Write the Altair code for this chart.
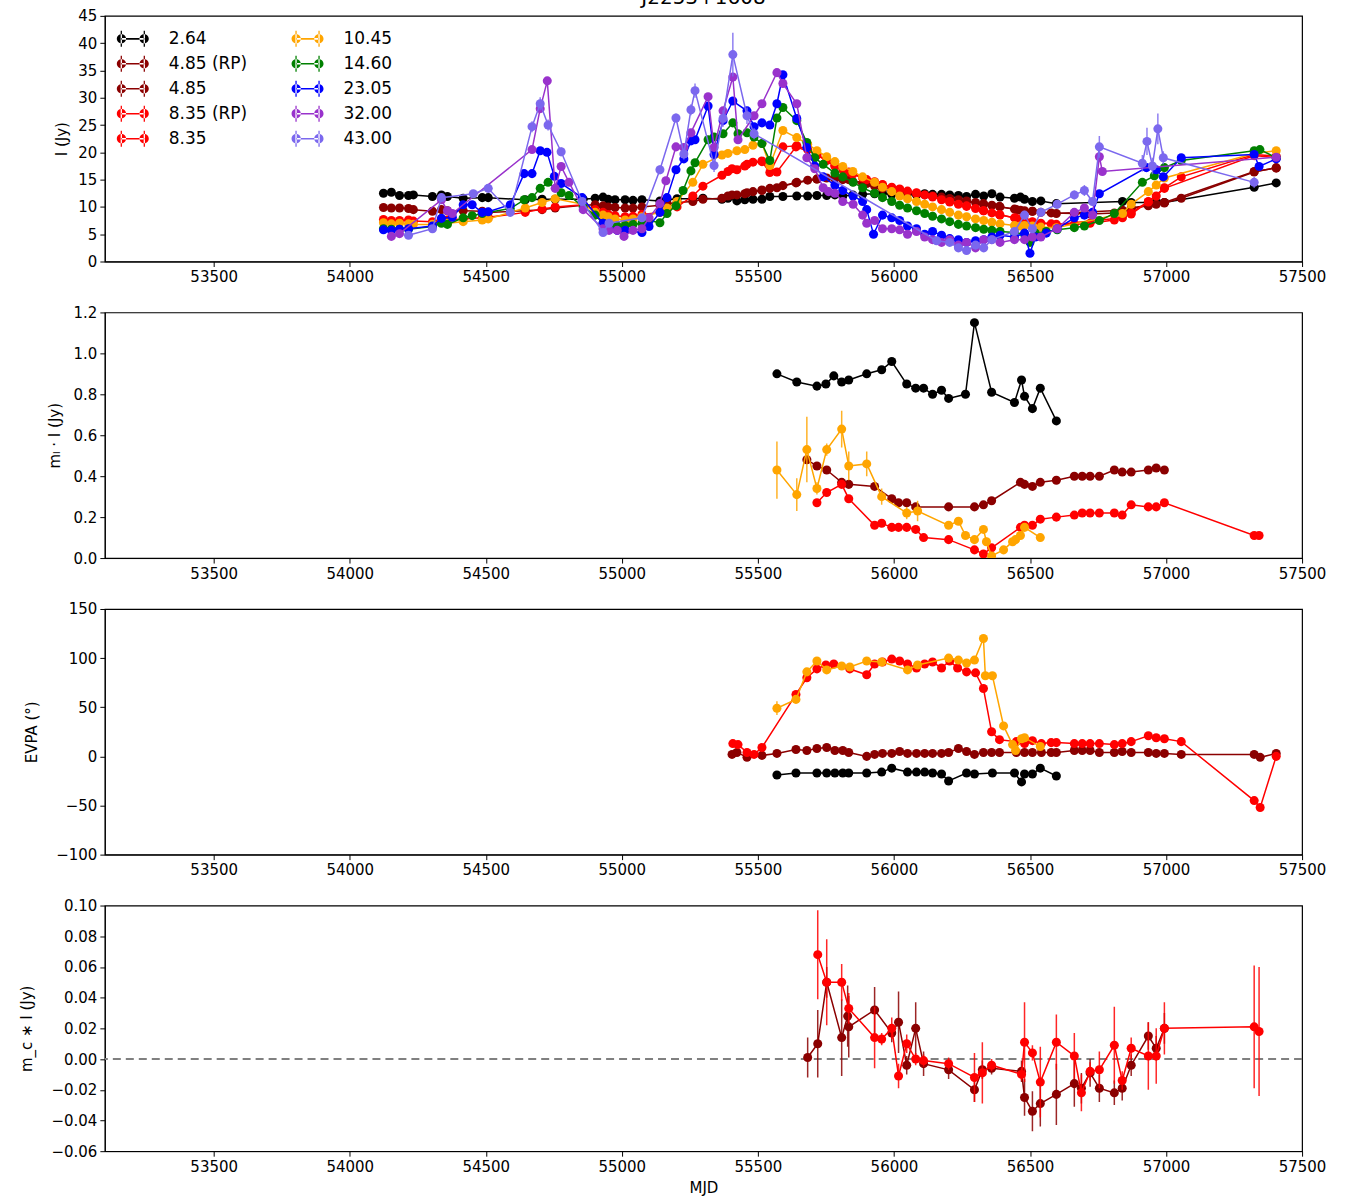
import altair as alt
import pandas as pd

# ---------------- panel 1: total flux density I (Jy) ----------------
DATES_A = [54124, 54153, 54183, 54216, 54234, 54304, 54337, 54359, 54417, 54487,
           54509, 54645, 54707, 54755, 54858, 54902, 54931, 54950, 54975, 55012,
           55041, 55074, 55140, 55166, 55203, 55261, 55298, 55368, 55390, 55423,
           55452, 55482, 55515, 55544, 55592, 55643, 55683, 55717, 55753, 55783,
           55812, 55849, 55885, 55929, 55958, 55992, 56021, 56050, 56083, 56113,
           56142, 56175, 56205, 56237, 56267, 56300, 56330, 56360, 56390, 56443,
           56465, 56480, 56509, 56540, 56597, 56840, 56872, 56935, 56964, 56994,
           57324, 57405]
I_264 = [12.5, 12.7, 12.1, 12.1, 12.2, 11.9, 12.2, 11.9, 11.6, 11.7,
         11.7, 11.3, 11.4, 11.4, 11.4, 11.6, 11.8, 11.4, 11.3, 11.3,
         11.2, 11.3, 11.1, 11.3, 11.5, 11.5, 11.6, 11.4, 11.6, 11.1,
         11.3, 11.4, 11.4, 11.9, 11.9, 12.0, 12.0, 12.1, 12.1, 12.2,
         12.0, 12.2, 12.3, 12.4, 12.5, 12.3, 12.3, 12.4, 12.2, 12.4,
         12.3, 12.3, 12.2, 12.1, 11.9, 12.3, 12.0, 12.4, 11.8, 11.6,
         11.8, 11.4, 11.0, 11.1, 10.6, 11.0, 10.8, 10.8, 10.9, 10.8,
         13.6, 14.4]
I_485 = [9.9, 9.8, 9.8, 9.7, 9.5, 9.2, 9.5, 9.3, 9.3, 9.2,
         9.0, 9.3, 9.5, 9.8, 10.3, 10.4, 10.2, 10.0, 9.9, 9.8,
         9.8, 10.0, 10.3, 10.6, 10.8, 11.0, 11.4, 11.6, 12.0, 12.2,
         12.4, 12.8, 13.0, 13.4, 13.9, 14.5, 14.9, 15.1, 15.3, 15.2,
         15.0, 14.6, 14.2, 13.8, 13.4, 13.0, 12.8, 12.6, 12.4, 12.2,
         12.0, 11.8, 11.5, 11.3, 11.0, 10.8, 10.5, 10.3, 10.0, 9.6,
         9.4, 9.3, 9.2, 9.0, 8.8, 9.4, 9.8, 10.3, 10.5, 10.8,
         16.5, 17.1]
I_835 = [7.7, 7.5, 7.5, 7.6, 7.4, 7.3, 7.8, 7.6, 7.8, 8.0,
         8.1, 9.0, 9.6, 10.0, 10.4, 9.5, 9.0, 8.6, 8.4, 8.2,
         8.3, 8.6, 9.0, 9.5, 10.0, 12.0, 13.8, 15.8, 16.5, 16.8,
         17.5, 18.2, 18.3, 16.3, 21.0, 21.2, 20.5, 19.5, 18.5, 17.6,
         16.8, 16.0, 15.3, 14.6, 14.0, 13.6, 13.2, 12.9, 12.5, 12.2,
         11.8, 11.3, 10.9, 10.5, 10.1, 9.7, 9.3, 8.9, 8.5, 8.0,
         7.7, 7.5, 7.2, 7.0, 6.8, 8.0, 8.7, 10.9, 12.0, 13.4,
         19.4, 19.0]
I_1045 = [7.1, 6.9, 7.0, 6.9, 6.8, 6.8, 7.2, 7.0, 7.3, 7.6,
          7.8, 9.8, 10.8, 11.5, 10.5, 9.0, 8.5, 8.2, 7.8, 7.6,
          7.8, 8.2, 9.0, 9.8, 11.0, 14.5, 17.8, 19.5, 19.8, 20.3,
          20.5, 21.3, 21.6, 17.6, 24.0, 22.7, 21.5, 20.3, 19.2, 18.3,
          17.4, 16.5, 15.5, 14.5, 13.6, 12.8, 12.0, 11.5, 11.0, 10.5,
          10.0, 9.5, 9.0, 8.5, 8.2, 7.8, 7.5, 7.2, 6.9, 6.6,
          6.5, 6.6, 6.5, 6.3, 6.2, 8.8, 10.5, 12.8, 14.0, 15.3,
          19.8, 20.3]

DATES_RP = [55405, 55460, 55515, 55570, 55640, 55717, 55783, 55834, 55900, 55958,
            56021, 56083, 56142, 56205, 56267, 56329, 56388, 56450, 56509, 56578,
            56663, 56721, 56810, 56872, 56935, 56994, 57056, 57324, 57405]
I_485_RP = [12.2, 12.6, 13.1, 13.5, 14.4, 15.1, 15.3, 15.0, 14.3, 13.4,
            12.8, 12.4, 12.0, 11.5, 11.1, 10.6, 10.1, 9.5, 9.2, 8.9,
            8.8, 8.7, 8.9, 9.7, 10.2, 10.7, 11.6, 16.4, 17.2]
I_835_RP = [17.0, 17.8, 18.4, 16.4, 21.0, 19.6, 17.5, 16.4, 15.0, 14.1,
            13.3, 12.6, 11.9, 11.0, 10.2, 9.3, 8.6, 7.9, 7.3, 6.9,
            6.8, 7.0, 7.6, 8.9, 11.0, 13.5, 15.5, 19.6, 19.3]

G_MJD = [54124, 54153, 54183, 54216, 54304, 54337, 54359, 54417, 54450, 54487,
         54590, 54641, 54670, 54700, 54729, 54777, 54806, 54858, 54902, 54931,
         54953, 54983, 55012, 55041, 55074, 55100, 55140, 55166, 55199, 55225,
         55254, 55269, 55317, 55339, 55372, 55408, 55427, 55460, 55486, 55515,
         55544, 55570, 55592, 55643, 55680, 55709, 55740, 55783, 55812, 55850,
         55885, 55929, 55958, 55992, 56021, 56050, 56083, 56113, 56142, 56175,
         56205, 56237, 56267, 56300, 56330, 56360, 56390, 56443, 56480, 56500,
         56520, 56560, 56600, 56663, 56700, 56755, 56810, 56913, 56957, 56994,
         57056, 57324, 57345, 57405]
I_1460 = [6.0, 5.9, 5.9, 5.9, 6.4, 7.0, 6.8, 8.0, 8.4, 8.8,
          9.7, 11.3, 11.7, 13.4, 14.5, 12.6, 12.1, 10.0, 8.5, 7.0,
          6.8, 6.5, 6.6, 6.8, 7.0, 7.5, 7.1, 8.8, 10.2, 13.0,
          16.6, 18.1, 22.3, 22.8, 23.4, 25.4, 23.4, 23.6, 22.8, 21.6,
          18.5, 26.3, 28.2, 25.8, 21.8, 19.0, 17.8, 16.2, 15.5, 14.5,
          13.5, 12.5, 11.7, 11.0, 10.3, 9.8, 9.3, 8.8, 8.3, 7.8,
          7.3, 6.8, 6.5, 6.2, 5.9, 5.7, 5.5, 5.3, 5.0, 3.5,
          5.2, 5.5, 5.8, 6.2, 6.5, 7.5, 8.8, 14.5, 15.7, 17.2,
          18.5, 20.3, 20.5, 19.0]

B_MJD = [54124, 54153, 54183, 54216, 54304, 54337, 54377, 54417, 54450, 54487,
         54509, 54590, 54641, 54670, 54700, 54725, 54752, 54777, 54854, 54931,
         54983, 55012, 55074, 55100, 55140, 55166, 55199, 55228, 55254, 55269,
         55317, 55339, 55372, 55408, 55460, 55486, 55515, 55544, 55570, 55592,
         55643, 55680, 55709, 55740, 55783, 55812, 55850, 55885, 55900, 55925,
         55958, 55992, 56021, 56050, 56083, 56113, 56142, 56175, 56205, 56237,
         56267, 56300, 56330, 56360, 56390, 56443, 56480, 56500, 56520, 56560,
         56600, 56663, 56700, 56730, 56755, 56928, 56964, 56990, 57056, 57324,
         57342, 57405]
I_2305 = [5.8, 5.7, 5.9, 6.0, 6.5, 7.9, 8.1, 10.4, 10.4, 9.0,
          9.1, 10.4, 16.1, 16.1, 20.3, 20.0, 15.6, 14.3, 11.7, 7.0,
          5.7, 5.7, 5.3, 6.4, 9.0, 11.7, 16.8, 18.8, 22.1, 22.3,
          28.5, 19.6, 25.8, 29.4, 27.6, 24.7, 25.4, 25.0, 28.9, 34.2,
          26.2, 20.9, 17.5, 15.5, 14.0, 13.0, 12.0, 11.0, 9.5, 5.0,
          8.5, 8.0, 7.5, 6.5, 6.0, 5.0, 5.5, 4.8, 4.2, 4.0,
          3.5, 3.8, 4.0, 4.5, 4.8, 4.5, 5.2, 1.5, 4.5, 5.2,
          6.0, 8.0, 8.5, 9.0, 12.4, 17.2, 16.8, 15.5, 19.0, 19.6,
          17.4, 18.8]

P_MJD = [54153, 54183, 54337, 54359, 54377, 54670, 54700, 54726, 54755, 54777,
         54806, 54858, 54931, 54953, 54983, 55008, 55041, 55074, 55100, 55140,
         55162, 55199, 55228, 55254, 55317, 55339, 55372, 55408, 55427, 55486,
         55515, 55570, 55592, 55643, 55680, 55709, 55740, 55760, 55783, 55812,
         55850, 55885, 55900, 55929, 55958, 55992, 56021, 56050, 56083, 56113,
         56142, 56175, 56205, 56237, 56267, 56300, 56330, 56360, 56390, 56443,
         56480, 56509, 56540, 56600, 56663, 56700, 56730, 56755, 56766, 57405]
I_3200 = [4.6, 5.1, 11.3, 9.3, 8.8, 20.5, 28.0, 33.1, 13.4, 17.4,
          14.5, 9.5, 6.0, 5.7, 5.7, 4.6, 5.7, 6.0, 8.0, 10.6,
          14.8, 21.0, 20.9, 23.6, 30.2, 20.9, 27.6, 33.8, 22.3, 26.7,
          28.9, 34.6, 32.6, 28.9, 19.0, 17.0, 13.5, 12.8, 12.5, 11.0,
          10.5, 8.5, 7.0, 7.5, 6.0, 6.0, 5.8, 5.0, 5.5, 4.5,
          4.0, 3.5, 4.0, 3.0, 3.5, 2.5, 4.0, 4.0, 3.5, 4.0,
          4.0, 4.5, 4.5, 6.0, 9.0, 9.8, 8.5, 19.2, 16.5, 19.1]

L_MJD = [54216, 54304, 54337, 54454, 54509, 54590, 54670, 54700, 54729, 54777,
         54854, 54931, 54953, 55074, 55140, 55199, 55228, 55254, 55269, 55339,
         55372, 55408, 55460, 55486, 56157, 56205, 56237, 56267, 56300, 56330,
         56360, 56443, 56480, 56509, 56540, 56600, 56663, 56700, 56730, 56755,
         56913, 56930, 56950, 56970, 56990, 57324]
I_4300 = [4.8, 6.0, 11.7, 12.4, 13.4, 9.0, 24.7, 28.9, 25.0, 20.1,
          11.0, 5.3, 7.0, 8.0, 16.8, 26.3, 19.7, 27.8, 31.3, 17.6,
          26.2, 37.9, 26.7, 23.4, 3.8, 3.5, 2.5, 2.0, 3.0, 2.5,
          4.0, 5.5, 8.5, 6.0, 9.0, 10.5, 12.2, 13.0, 11.0, 21.0,
          18.0, 22.0, 17.5, 24.3, 19.0, 14.5]
E_4300 = [0.3, 0.3, 0.5, 0.5, 0.5, 0.5, 1.0, 1.2, 1.0, 0.8,
          0.5, 0.3, 0.3, 0.4, 0.8, 0.8, 1.0, 1.0, 1.3, 1.2,
          1.5, 4.0, 1.5, 1.0, 0.3, 0.3, 0.3, 0.3, 0.3, 0.3,
          0.3, 0.4, 0.8, 0.5, 0.5, 0.8, 0.8, 1.0, 0.8, 2.0,
          1.5, 2.5, 1.5, 2.8, 1.2, 1.0]

# ---------------- panel 2: linearly polarised flux m_l * I ----------------
ML_264_MJD = [55570, 55643, 55717, 55750, 55779, 55808, 55834, 55900, 55955, 55992,
              56047, 56080, 56109, 56142, 56175, 56201, 56263, 56296, 56359, 56443,
              56469, 56480, 56509, 56538, 56597]
ML_264 = [0.90, 0.86, 0.84, 0.85, 0.89, 0.86, 0.87, 0.90, 0.92, 0.96,
          0.85, 0.83, 0.83, 0.80, 0.82, 0.78, 0.80, 1.15, 0.81, 0.76,
          0.87, 0.79, 0.73, 0.83, 0.67]
ML_1045_MJD = [55570, 55643, 55680, 55717, 55753, 55808, 55834, 55900, 55955, 56047,
               56087, 56201, 56237, 56263, 56296, 56329, 56340, 56359, 56403, 56436,
               56447, 56465, 56480, 56538]
ML_1045 = [0.43, 0.31, 0.53, 0.34, 0.53, 0.63, 0.45, 0.46, 0.30, 0.22,
           0.23, 0.16, 0.18, 0.11, 0.09, 0.14, 0.08, 0.01, 0.04, 0.08,
           0.09, 0.11, 0.15, 0.10]
ML_1045_ERR = [0.14, 0.08, 0.16, 0.03, 0.03, 0.09, 0.07, 0.06, 0.04, 0.03,
               0.05, 0.01, 0.01, 0.01, 0.01, 0.01, 0.02, 0.01, 0.01, 0.01,
               0.01, 0.01, 0.01, 0.02]
ML_485_MJD = [55680, 55717, 55753, 55808, 55834, 55929, 55992, 56017, 56047, 56080,
              56201, 56296, 56329, 56359, 56465, 56480, 56509, 56538, 56597, 56663,
              56692, 56721, 56755, 56810, 56839, 56872, 56935, 56964, 56994]
ML_485 = [0.48, 0.45, 0.43, 0.37, 0.36, 0.35, 0.29, 0.27, 0.27, 0.25,
          0.25, 0.25, 0.26, 0.28, 0.37, 0.36, 0.35, 0.37, 0.38, 0.40,
          0.40, 0.40, 0.40, 0.43, 0.42, 0.42, 0.43, 0.44, 0.43]
ML_835_MJD = [55717, 55753, 55808, 55834, 55929, 55955, 55992, 56017, 56047, 56080,
              56109, 56201, 56296, 56329, 56359, 56465, 56480, 56509, 56538, 56597,
              56663, 56692, 56721, 56755, 56810, 56839, 56872, 56935, 56964, 56994,
              57324, 57342]
ML_835 = [0.27, 0.32, 0.36, 0.29, 0.16, 0.17, 0.15, 0.15, 0.15, 0.14,
          0.10, 0.09, 0.04, 0.02, 0.05, 0.15, 0.16, 0.16, 0.19, 0.20,
          0.21, 0.22, 0.22, 0.22, 0.22, 0.21, 0.26, 0.25, 0.25, 0.27,
          0.11, 0.11]

# ---------------- panel 3: EVPA (deg) ----------------
EV_835_MJD = [55408, 55427, 55460, 55486, 55515, 55640, 55680, 55717, 55750, 55779,
              55838, 55900, 55929, 55958, 55992, 56021, 56050, 56083, 56113, 56142,
              56175, 56205, 56234, 56267, 56300, 56329, 56359, 56388, 56450, 56480,
              56509, 56542, 56578, 56597, 56663, 56692, 56721, 56755, 56810, 56839,
              56872, 56935, 56964, 56994, 57056, 57324, 57346, 57405]
EV_835 = [13, 12, 4, 2, 9, 63, 80, 89, 93, 94,
          89, 83, 94, 96, 99, 97, 94, 90, 94, 96,
          90, 97, 90, 86, 85, 69, 25, 17, 15, 13,
          16, 13, 14, 14, 13, 13, 13, 13, 12, 13,
          15, 21, 19, 18, 15, -45, -52, 0]
EV_1045_MJD = [55570, 55640, 55680, 55717, 55753, 55808, 55838, 55900, 55955, 56050,
               56087, 56201, 56237, 56267, 56296, 56329, 56336, 56362, 56403, 56436,
               56447, 56469, 56480, 56538]
EV_1045 = [49, 58, 86, 97, 88, 92, 91, 97, 96, 88,
           93, 100, 98, 95, 98, 120, 82, 82, 31, 12,
           6, 18, 19, 10]
EV_1045_ERR = [7, 4, 3, 3, 2, 2, 2, 2, 2, 3,
               2, 2, 2, 2, 2, 2, 3, 3, 2, 3,
               3, 2, 2, 2]
EV_485_MJD = [55405, 55423, 55460, 55515, 55570, 55640, 55680, 55717, 55753, 55783,
              55812, 55834, 55900, 55929, 55958, 55992, 56021, 56050, 56083, 56113,
              56142, 56175, 56201, 56237, 56267, 56296, 56329, 56359, 56388, 56450,
              56480, 56509, 56542, 56578, 56597, 56663, 56692, 56721, 56755, 56810,
              56839, 56872, 56935, 56964, 56994, 57056, 57324, 57346, 57405]
EV_485 = [2, 4, -1, 1, 3, 7, 6, 8, 9, 6,
          6, 4, 0, 2, 3, 3, 5, 3, 3, 3,
          3, 3, 4, 8, 5, 2, 4, 4, 4, 4,
          4, 4, 4, 4, 4, 6, 6, 6, 4, 4,
          5, 4, 4, 3, 3, 2, 2, -1, 3]
EV_264_MJD = [55570, 55640, 55717, 55753, 55783, 55812, 55834, 55900, 55955, 55992,
              56050, 56083, 56113, 56142, 56175, 56201, 56267, 56296, 56362, 56443,
              56469, 56480, 56509, 56538, 56597]
EV_264 = [-19, -17, -17, -17, -17, -17, -17, -17, -16, -12,
          -16, -16, -16, -17, -18, -25, -17, -18, -17, -17,
          -26, -18, -18, -12, -20]

# ---------------- panel 4: circularly polarised flux m_c * I ----------------
MC_485_MJD = [55683, 55720, 55753, 55808, 55830, 55834, 55929, 55992, 56017, 56047,
              56080, 56109, 56201, 56296, 56325, 56359, 56469, 56480, 56509, 56538,
              56597, 56663, 56689, 56721, 56755, 56810, 56839, 56872, 56935, 56964,
              56994]
MC_485 = [0.001, 0.010, 0.050, 0.014, 0.028, 0.021, 0.032, 0.017, 0.024, -0.004,
          0.020, -0.003, -0.007, -0.020, -0.007, -0.006, -0.008, -0.025, -0.034, -0.029,
          -0.023, -0.016, -0.019, -0.009, -0.019, -0.022, -0.019, -0.004, 0.015, 0.007,
          0.020]
MC_485_ERR = [0.013, 0.022, 0.010, 0.025, 0.020, 0.020, 0.015, 0.006, 0.020, 0.006,
              0.017, 0.008, 0.006, 0.008, 0.006, 0.004, 0.007, 0.012, 0.013, 0.015,
              0.020, 0.015, 0.010, 0.009, 0.009, 0.008, 0.008, 0.007, 0.009, 0.008,
              0.010]
MC_835_MJD = [55720, 55753, 55808, 55834, 55929, 55955, 55992, 56017, 56047, 56080,
              56109, 56201, 56296, 56325, 56359, 56469, 56480, 56509, 56538, 56597,
              56663, 56689, 56721, 56755, 56810, 56839, 56872, 56935, 56964, 56994,
              57324, 57342]
MC_835 = [0.068, 0.050, 0.050, 0.033, 0.014, 0.013, 0.020, -0.011, 0.010, 0.000,
          -0.001, -0.003, -0.012, -0.009, -0.004, -0.010, 0.011, 0.004, -0.015, 0.011,
          0.002, -0.022, -0.008, -0.007, 0.009, -0.014, 0.007, 0.002, 0.002, 0.020,
          0.021, 0.018]
MC_835_ERR = [0.029, 0.028, 0.012, 0.010, 0.020, 0.004, 0.007, 0.008, 0.006, 0.004,
              0.004, 0.004, 0.016, 0.020, 0.004, 0.004, 0.026, 0.005, 0.023, 0.018,
              0.015, 0.012, 0.006, 0.012, 0.025, 0.006, 0.007, 0.022, 0.018, 0.017,
              0.040, 0.042]

# ---------------- styling / labels ----------------
SERIES = ["2.64", "4.85 (RP)", "4.85", "8.35 (RP)", "8.35",
          "10.45", "14.60", "23.05", "32.00", "43.00"]
COLORS = {"2.64": "black", "4.85 (RP)": "darkred", "4.85": "darkred",
          "8.35 (RP)": "red", "8.35": "red", "10.45": "orange", "14.60": "green",
          "23.05": "blue", "32.00": "darkorchid", "43.00": "mediumslateblue"}
X_TICKS = [53500, 54000, 54500, 55000, 55500, 56000, 56500, 57000, 57500]
X_DOMAIN = [53100, 57500]

FONT = "DejaVu Sans"
W, H = 1199, 246
PT = 82
LEG_PATH = ("M-0.72,-0.05H0.72V0.05H-0.72Z "
            "M-0.76,-0.5H-0.68V0.5H-0.76Z M0.68,-0.5H0.76V0.5H0.68Z "
            "M-1,0A0.29,0.29,0,1,0,-0.42,0A0.29,0.29,0,1,0,-1,0Z "
            "M0.42,0A0.29,0.29,0,1,0,1,0A0.29,0.29,0,1,0,0.42,0Z")


def frame(mjd, val, name, err=None):
    d = pd.DataFrame({"mjd": mjd[:len(val)], "val": val[:len(mjd)]})
    d["series"] = name
    if err is not None:
        e = list(err)[:len(d)]
        d = d.iloc[:len(e)].copy()
        d["lo"] = d["val"] - pd.Series(e, index=d.index)
        d["hi"] = d["val"] + pd.Series(e, index=d.index)
    return d


def series_layers(df, name, y_title, y_scale, y_axis, x_axis, with_legend, err=False):
    c = COLORS[name]
    base = alt.Chart(df)
    x = alt.X("mjd:Q", scale=alt.Scale(domain=X_DOMAIN, nice=False, zero=False),
              axis=x_axis)
    y = alt.Y("val:Q", scale=y_scale, axis=y_axis, title=y_title)
    layers = [base.mark_line(color=c, strokeWidth=1.5, clip=True).encode(x=x, y=y)]
    if err:
        layers.append(base.mark_rule(color=c, strokeWidth=1.5, opacity=0.85, clip=True)
                      .encode(x=x, y=alt.Y("lo:Q", scale=y_scale, axis=y_axis, title=y_title),
                              y2="hi:Q"))
    if with_legend:
        col = alt.Color("series:N",
                        scale=alt.Scale(domain=SERIES,
                                        range=[COLORS[s] for s in SERIES]),
                        legend=alt.Legend(title=None, orient="none", legendX=12, legendY=7,
                                          columns=2, symbolType=LEG_PATH, symbolSize=1024,
                                          symbolStrokeWidth=0, symbolOpacity=1,
                                          labelFontSize=17, labelFont=FONT, labelColor="black",
                                          labelOffset=20, rowPadding=1, columnPadding=44,
                                          padding=0))
        layers.append(base.mark_point(filled=True, size=PT, opacity=1, clip=True)
                      .encode(x=x, y=y, color=col))
    else:
        layers.append(base.mark_point(filled=True, size=PT, opacity=1, color=c, clip=True)
                      .encode(x=x, y=y))
    return layers


def xaxis(title=None):
    kw = dict(values=X_TICKS, format="d", labelFlush=False, labelOverlap=False)
    if title:
        return alt.Axis(title=title, **kw)
    return alt.Axis(title=None, **kw)


# panel 1
p1_data = [
    (frame(DATES_A, I_264, "2.64"), "2.64", False),
    (frame(DATES_RP, I_485_RP, "4.85 (RP)"), "4.85 (RP)", False),
    (frame(DATES_A, I_485, "4.85"), "4.85", False),
    (frame(DATES_RP, I_835_RP, "8.35 (RP)"), "8.35 (RP)", False),
    (frame(DATES_A, I_835, "8.35"), "8.35", False),
    (frame(DATES_A, I_1045, "10.45"), "10.45", False),
    (frame(G_MJD, I_1460, "14.60"), "14.60", False),
    (frame(B_MJD, I_2305, "23.05"), "23.05", False),
    (frame(P_MJD, I_3200, "32.00"), "32.00", False),
    (frame(L_MJD, I_4300, "43.00", E_4300), "43.00", True),
]
y1s = alt.Scale(domain=[0, 45], nice=False, zero=False)
y1a = alt.Axis(values=list(range(0, 46, 5)), format="d", labelFlush=False, titlePadding=8)
l1 = []
for d, n, e in p1_data:
    l1 += series_layers(d, n, "I (Jy)", y1s, y1a, xaxis(), True, e)
p1 = alt.layer(*l1).properties(
    width=W, height=H,
    title=alt.TitleParams("J2253+1608", fontSize=20, font=FONT, fontWeight="normal",
                          color="black", offset=1, anchor="middle"))

# panel 2
y2s = alt.Scale(domain=[0, 1.2], nice=False, zero=False)
y2a = alt.Axis(values=[0, 0.2, 0.4, 0.6, 0.8, 1.0, 1.2], format=".1f", labelFlush=False,
               titlePadding=11)
l2 = []
for d, n, e in [(frame(ML_264_MJD, ML_264, "2.64"), "2.64", False),
                (frame(ML_485_MJD, ML_485, "4.85 (RP)"), "4.85 (RP)", False),
                (frame(ML_835_MJD, ML_835, "8.35 (RP)"), "8.35 (RP)", False),
                (frame(ML_1045_MJD, ML_1045, "10.45", ML_1045_ERR), "10.45", True)]:
    l2 += series_layers(d, n, "mₗ · I (Jy)", y2s, y2a, xaxis(), False, e)
p2 = alt.layer(*l2).properties(width=W, height=H)

# panel 3
y3s = alt.Scale(domain=[-100, 150], nice=False, zero=False)
y3a = alt.Axis(values=[-100, -50, 0, 50, 100, 150], format="d", labelFlush=False,
               titlePadding=16)
l3 = []
for d, n, e in [(frame(EV_264_MJD, EV_264, "2.64"), "2.64", False),
                (frame(EV_485_MJD, EV_485, "4.85 (RP)"), "4.85 (RP)", False),
                (frame(EV_835_MJD, EV_835, "8.35 (RP)"), "8.35 (RP)", False),
                (frame(EV_1045_MJD, EV_1045, "10.45", EV_1045_ERR), "10.45", True)]:
    l3 += series_layers(d, n, "EVPA (°)", y3s, y3a, xaxis(), False, e)
p3 = alt.layer(*l3).properties(width=W, height=H)

# panel 4
y4s = alt.Scale(domain=[-0.06, 0.10], nice=False, zero=False)
y4a = alt.Axis(values=[-0.06, -0.04, -0.02, 0.0, 0.02, 0.04, 0.06, 0.08, 0.10],
               format=".2f", labelFlush=False, titlePadding=16)
zero_line = alt.Chart(pd.DataFrame({"z": [0.0]})).mark_rule(
    color="gray", strokeWidth=2, strokeDash=[8, 5]).encode(
    y=alt.Y("z:Q", scale=y4s, axis=y4a, title="m_c ∗ I (Jy)"))
l4 = [zero_line]
for d, n, e in [(frame(MC_485_MJD, MC_485, "4.85 (RP)", MC_485_ERR), "4.85 (RP)", True),
                (frame(MC_835_MJD, MC_835, "8.35 (RP)", MC_835_ERR), "8.35 (RP)", True)]:
    l4 += series_layers(d, n, "m_c ∗ I (Jy)", y4s, y4a, xaxis("MJD"), False, e)
p4 = alt.layer(*l4).properties(width=W, height=H)

chart = alt.vconcat(p1, p2, p3, p4, spacing=19).resolve_scale(
    color="independent").resolve_legend(color="independent").properties(
    padding={"left": 19, "top": -14, "right": 20, "bottom": 2},
    background="white"
).configure_axis(
    domainColor="black", tickColor="black", labelColor="black", titleColor="black",
    labelFont=FONT, titleFont=FONT, labelFontSize=15, titleFontSize=15,
    titleFontWeight="normal", grid=False, tickSize=5, labelPadding=3, titlePadding=6
).configure_view(stroke="black", strokeWidth=1.2)

chart.save("out.html", embed_options={"renderer": "svg", "actions": False})
